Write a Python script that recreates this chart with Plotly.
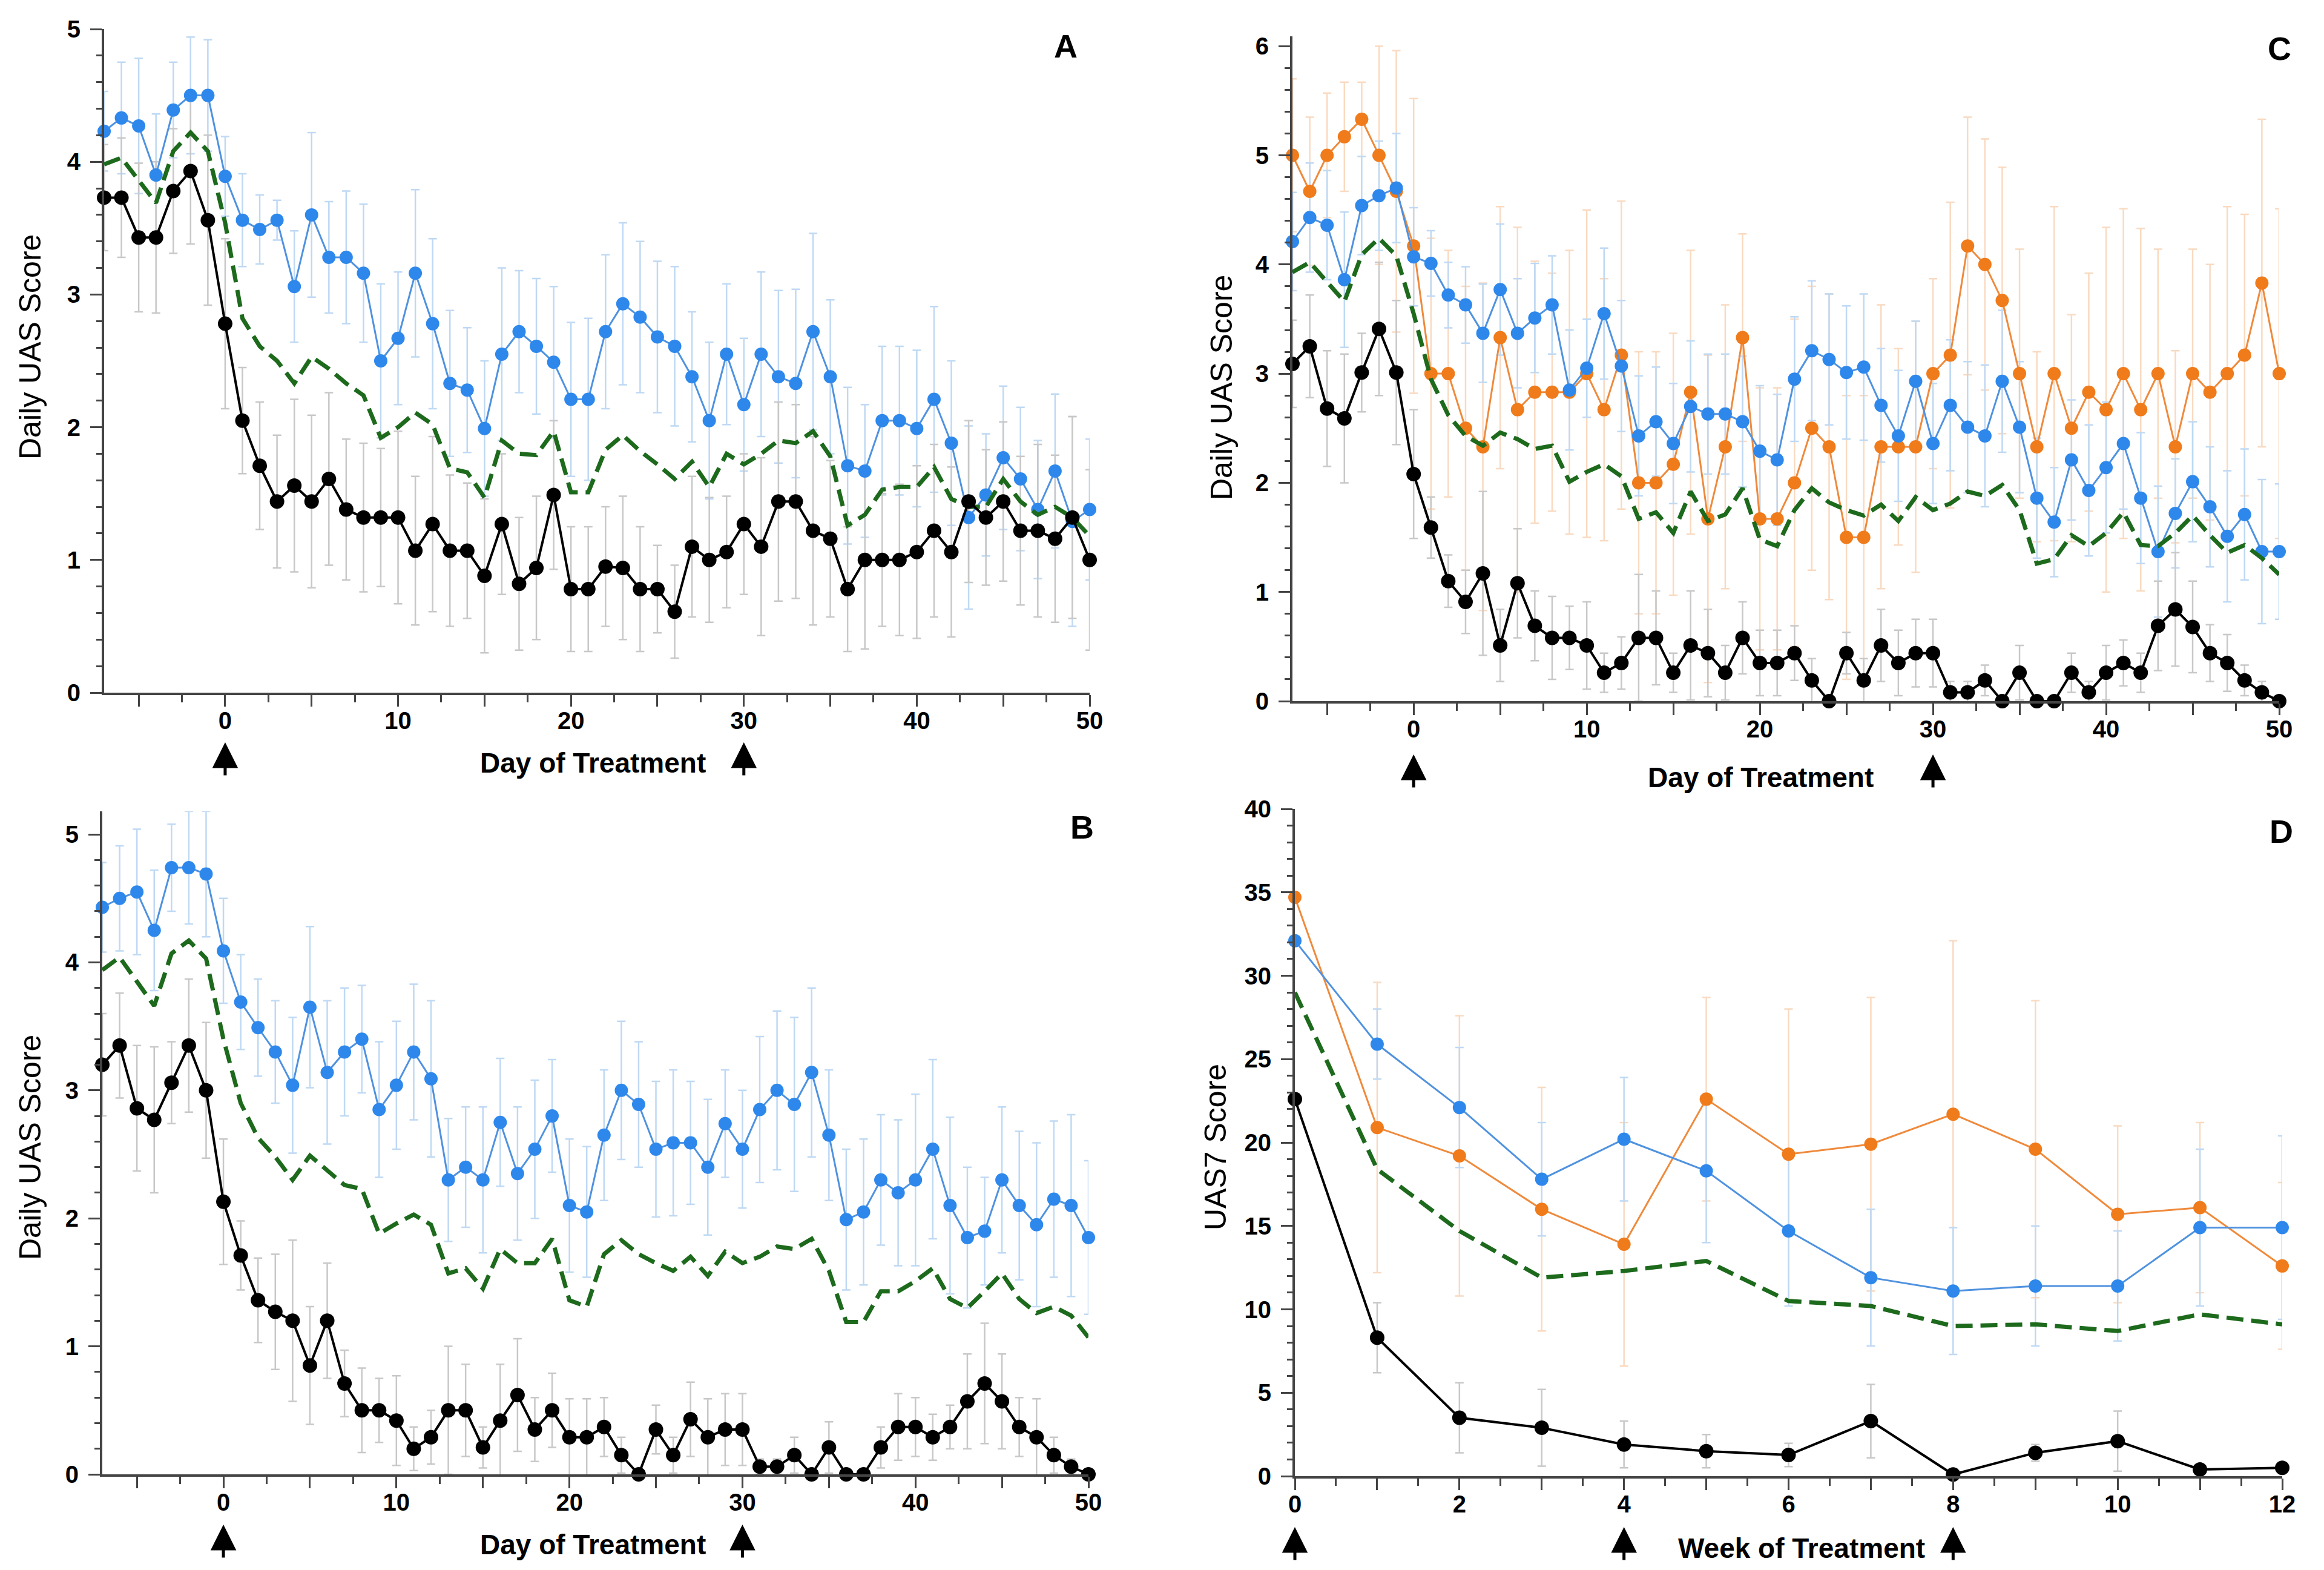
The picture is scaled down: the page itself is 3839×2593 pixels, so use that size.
import numpy as np
import plotly.graph_objects as go

# ---------------- data ----------------
days = list(range(-7, 51))
weeks = list(range(0, 13))
arrow_days = [0, 30]
arrow_weeks = [0, 4, 8]

# Panel A
A_blue = [4.23, 4.33, 4.27, 3.90, 4.39, 4.50, 4.50,
          3.89, 3.56, 3.49, 3.56, 3.06, 3.60, 3.28, 3.28, 3.16, 2.50,
          2.67, 3.16, 2.78, 2.33, 2.28, 1.99, 2.55, 2.72, 2.61, 2.49,
          2.21, 2.21, 2.72, 2.93, 2.83, 2.68, 2.61, 2.38, 2.05, 2.55,
          2.17, 2.55, 2.38, 2.33, 2.72, 2.38, 1.71, 1.67, 2.05, 2.05,
          1.99, 2.21, 1.88, 1.32, 1.49, 1.77, 1.61, 1.38, 1.67, 1.29, 1.38]
A_blue_err = [0.30, 0.42, 0.51, 0.46, 0.36, 0.44, 0.42,
              0.30, 0.35, 0.26, 0.15, 0.42, 0.62, 0.42, 0.50, 0.52, 0.58,
              0.50, 0.63, 0.64, 0.55, 0.47, 0.51, 0.65, 0.46, 0.51, 0.57,
              0.58, 0.61, 0.58, 0.61, 0.57, 0.57, 0.60, 0.49, 0.59, 0.53,
              0.50, 0.62, 0.65, 0.71, 0.74, 0.58, 0.59, 0.50, 0.56, 0.56,
              0.59, 0.70, 0.62, 0.69, 0.46, 0.54, 0.54, 0.52, 0.58, 0.79, 0.53]
A_black = [3.73, 3.73, 3.43, 3.43, 3.78, 3.93, 3.56,
           2.78, 2.05, 1.71, 1.44, 1.56, 1.44, 1.61, 1.38, 1.32, 1.32,
           1.32, 1.07, 1.27, 1.07, 1.07, 0.88, 1.27, 0.82, 0.94, 1.49,
           0.78, 0.78, 0.95, 0.94, 0.78, 0.78, 0.61, 1.10, 1.00, 1.06,
           1.27, 1.10, 1.44, 1.44, 1.22, 1.16, 0.78, 1.00, 1.00, 1.00,
           1.06, 1.22, 1.06, 1.44, 1.32, 1.44, 1.22, 1.22, 1.16, 1.32, 1.00]
A_black_err = [0.40, 0.45, 0.56, 0.57, 0.47, 0.55, 0.64,
               0.64, 0.40, 0.48, 0.50, 0.65, 0.65, 0.65, 0.53, 0.56, 0.52,
               0.65, 0.56, 0.66, 0.57, 0.51, 0.58, 0.53, 0.50, 0.54, 0.56,
               0.47, 0.47, 0.45, 0.54, 0.47, 0.33, 0.35, 0.53, 0.47, 0.42,
               0.53, 0.67, 0.75, 0.73, 0.71, 0.59, 0.47, 0.67, 0.50, 0.57,
               0.65, 0.65, 0.64, 0.61, 0.51, 0.60, 0.56, 0.65, 0.63, 0.76, 0.68]
A_green = [3.98, 4.03, 3.86, 3.69, 4.08, 4.22, 4.08,
           3.54, 2.82, 2.61, 2.50, 2.33, 2.53, 2.44, 2.33, 2.24, 1.92,
           2.00, 2.11, 2.02, 1.69, 1.66, 1.47, 1.90, 1.80, 1.79, 1.97,
           1.51, 1.51, 1.83, 1.94, 1.82, 1.72, 1.61, 1.74, 1.55, 1.80,
           1.72, 1.80, 1.90, 1.88, 1.97, 1.78, 1.26, 1.34, 1.53, 1.55,
           1.55, 1.70, 1.46, 1.40, 1.40, 1.61, 1.44, 1.34, 1.40, 1.32, 1.18]

# Panel B
B_blue = [4.43, 4.50, 4.55, 4.25, 4.74, 4.74, 4.69,
          4.09, 3.69, 3.49, 3.30, 3.04, 3.65, 3.14, 3.30, 3.40, 2.85,
          3.04, 3.30, 3.09, 2.30, 2.40, 2.30, 2.75, 2.35, 2.54, 2.80,
          2.10, 2.05, 2.65, 3.00, 2.89, 2.54, 2.59, 2.59, 2.40, 2.74,
          2.54, 2.85, 3.00, 2.89, 3.14, 2.65, 1.99, 2.05, 2.30, 2.20,
          2.30, 2.54, 2.10, 1.85, 1.90, 2.30, 2.10, 1.95, 2.15, 2.10, 1.85]
B_blue_err = [0.35, 0.41, 0.49, 0.47, 0.34, 0.44, 0.49,
              0.41, 0.37, 0.38, 0.40, 0.53, 0.63, 0.56, 0.50, 0.42, 0.53,
              0.50, 0.53, 0.61, 0.48, 0.47, 0.57, 0.50, 0.52, 0.54, 0.44,
              0.52, 0.51, 0.51, 0.54, 0.49, 0.53, 0.57, 0.48, 0.53, 0.42,
              0.46, 0.57, 0.62, 0.68, 0.66, 0.51, 0.55, 0.57, 0.51, 0.57,
              0.67, 0.70, 0.69, 0.55, 0.42, 0.57, 0.58, 0.64, 0.61, 0.71, 0.60]
B_black = [3.20, 3.35, 2.86, 2.77, 3.06, 3.35, 3.00,
           2.13, 1.71, 1.36, 1.27, 1.20, 0.85, 1.20, 0.71, 0.50, 0.50,
           0.42, 0.20, 0.29, 0.50, 0.50, 0.21, 0.42, 0.62, 0.35, 0.50,
           0.29, 0.29, 0.37, 0.15, 0.00, 0.35, 0.15, 0.43, 0.29, 0.35,
           0.35, 0.06, 0.06, 0.15, 0.00, 0.21, 0.00, 0.00, 0.21, 0.37,
           0.37, 0.29, 0.37, 0.57, 0.71, 0.57, 0.37, 0.29, 0.15, 0.06, 0.00]
B_black_err = [0.40, 0.41, 0.49, 0.57, 0.32, 0.52, 0.53,
               0.49, 0.27, 0.33, 0.45, 0.63, 0.46, 0.45, 0.26, 0.33, 0.25,
               0.35, 0.17, 0.21, 0.50, 0.36, 0.16, 0.44, 0.44, 0.25, 0.29,
               0.30, 0.30, 0.23, 0.14, 0.00, 0.19, 0.14, 0.29, 0.30, 0.28,
               0.28, 0.06, 0.06, 0.14, 0.00, 0.20, 0.00, 0.00, 0.16, 0.26,
               0.23, 0.18, 0.17, 0.37, 0.47, 0.37, 0.23, 0.30, 0.14, 0.06, 0.00]
B_green = [3.94, 4.04, 3.85, 3.66, 4.07, 4.17, 4.03,
           3.40, 2.90, 2.63, 2.48, 2.30, 2.49, 2.37, 2.26, 2.23, 1.88,
           1.96, 2.03, 1.95, 1.57, 1.61, 1.45, 1.76, 1.65, 1.65, 1.84,
           1.36, 1.31, 1.72, 1.83, 1.72, 1.65, 1.59, 1.70, 1.55, 1.74,
           1.65, 1.70, 1.78, 1.76, 1.84, 1.59, 1.19, 1.19, 1.43, 1.43,
           1.51, 1.61, 1.37, 1.30, 1.43, 1.57, 1.37, 1.26, 1.31, 1.24, 1.07]

# Panel C
C_orange = [5.00, 4.67, 5.00, 5.17, 5.33, 5.00, 4.67,
            4.17, 3.00, 3.00, 2.50, 2.33, 3.33, 2.67, 2.83, 2.83, 2.83,
            3.00, 2.67, 3.17, 2.00, 2.00, 2.17, 2.83, 1.67, 2.33, 3.33,
            1.67, 1.67, 2.00, 2.50, 2.33, 1.50, 1.50, 2.33, 2.33, 2.33,
            3.00, 3.17, 4.17, 4.00, 3.67, 3.00, 2.33, 3.00, 2.50, 2.83,
            2.67, 3.00, 2.67, 3.00, 2.33, 3.00, 2.83, 3.00, 3.17, 3.83, 3.00]
C_orange_err = [0.70, 0.68, 0.57, 0.50, 0.34, 1.00, 1.29,
                1.35, 1.24, 1.13, 1.30, 1.50, 1.20, 1.67, 1.20, 1.09, 1.30,
                1.50, 1.20, 1.41, 1.20, 1.20, 1.20, 1.30, 1.50, 1.30, 0.95,
                1.20, 1.20, 1.50, 1.30, 1.40, 1.30, 1.30, 1.30, 0.90, 1.15,
                0.87, 1.40, 1.18, 1.15, 1.22, 1.14, 0.87, 1.53, 1.04, 1.09,
                1.67, 1.51, 1.66, 1.14, 0.88, 1.14, 1.17, 1.53, 1.29, 1.50, 1.51]
C_blue = [4.21, 4.43, 4.36, 3.86, 4.54, 4.63, 4.70,
          4.07, 4.01, 3.72, 3.63, 3.37, 3.77, 3.37, 3.51, 3.63, 2.85,
          3.05, 3.55, 3.07, 2.43, 2.56, 2.36, 2.70, 2.63, 2.63, 2.56,
          2.29, 2.21, 2.95, 3.21, 3.13, 3.01, 3.06, 2.71, 2.43, 2.93,
          2.36, 2.71, 2.51, 2.43, 2.93, 2.51, 1.86, 1.64, 2.21, 1.93,
          2.14, 2.36, 1.86, 1.37, 1.72, 2.01, 1.78, 1.51, 1.71, 1.37, 1.37]
C_blue_err = [0.45, 0.50, 0.50, 0.62, 0.45, 0.50, 0.50,
              0.45, 0.30, 0.30, 0.35, 0.45, 0.60, 0.50, 0.50, 0.45, 0.55,
              0.45, 0.60, 0.60, 0.55, 0.50, 0.55, 0.60, 0.55, 0.55, 0.60,
              0.60, 0.60, 0.57, 0.64, 0.60, 0.61, 0.67, 0.52, 0.60, 0.55,
              0.55, 0.60, 0.60, 0.65, 0.65, 0.60, 0.55, 0.50, 0.55, 0.60,
              0.60, 0.60, 0.60, 0.60, 0.50, 0.55, 0.55, 0.60, 0.60, 0.66, 0.62]
C_black = [3.09, 3.25, 2.68, 2.59, 3.01, 3.41, 3.01,
           2.08, 1.59, 1.10, 0.91, 1.17, 0.51, 1.08, 0.69, 0.58, 0.58,
           0.51, 0.26, 0.35, 0.58, 0.58, 0.26, 0.51, 0.44, 0.26, 0.58,
           0.35, 0.35, 0.44, 0.19, 0.00, 0.44, 0.19, 0.51, 0.35, 0.44,
           0.44, 0.08, 0.08, 0.19, 0.00, 0.26, 0.00, 0.00, 0.26, 0.08,
           0.26, 0.35, 0.26, 0.69, 0.84, 0.68, 0.44, 0.35, 0.19, 0.08, 0.00]
C_black_err = [0.40, 0.47, 0.53, 0.59, 0.36, 0.61, 0.66,
               0.59, 0.28, 0.24, 0.29, 0.75, 0.33, 0.50, 0.32, 0.38, 0.29,
               0.40, 0.18, 0.24, 0.58, 0.43, 0.18, 0.50, 0.40, 0.25, 0.33,
               0.30, 0.30, 0.25, 0.20, 0.00, 0.19, 0.20, 0.33, 0.30, 0.31,
               0.31, 0.10, 0.10, 0.14, 0.00, 0.25, 0.00, 0.00, 0.18, 0.10,
               0.25, 0.21, 0.18, 0.41, 0.52, 0.42, 0.26, 0.26, 0.14, 0.10, 0.00]
C_green = [3.93, 4.02, 3.84, 3.66, 4.09, 4.24, 4.08,
           3.55, 2.95, 2.62, 2.43, 2.34, 2.46, 2.40, 2.31, 2.34, 2.01,
           2.10, 2.17, 2.06, 1.67, 1.73, 1.54, 1.92, 1.65, 1.71, 1.95,
           1.48, 1.42, 1.75, 1.95, 1.82, 1.75, 1.70, 1.80, 1.65, 1.87,
           1.75, 1.81, 1.92, 1.88, 1.98, 1.75, 1.26, 1.30, 1.52, 1.42,
           1.54, 1.73, 1.43, 1.42, 1.54, 1.70, 1.52, 1.36, 1.43, 1.31, 1.16]

# Panel D (weekly UAS7)
D_orange = [34.7, 20.9, 19.2, 16.0, 13.9, 22.6, 19.3, 19.9, 21.7, 19.6, 15.7, 16.1, 12.6]
D_orange_err = [0.0, 8.7, 8.4, 7.3, 7.3, 6.1, 8.7, 8.8, 10.4, 8.9, 5.3, 5.1, 5.0]
D_blue = [32.1, 25.9, 22.1, 17.8, 20.2, 18.3, 14.7, 11.9, 11.1, 11.4, 11.4, 14.9, 14.9]
D_blue_err = [0.0, 2.1, 3.6, 3.4, 3.7, 4.3, 4.5, 4.1, 3.8, 3.6, 3.3, 4.7, 5.5]
D_black = [22.6, 8.3, 3.5, 2.9, 1.9, 1.5, 1.27, 3.3, 0.1, 1.4, 2.1, 0.4, 0.5]
D_black_err = [0.0, 2.1, 2.1, 2.3, 1.4, 1.0, 0.7, 2.2, 0.0, 0.5, 1.8, 0.3, 0.3]
D_green = [29.0, 18.4, 14.7, 11.9, 12.3, 12.9, 10.5, 10.2, 9.0, 9.1, 8.7, 9.7, 9.1]

# ---------------- styles ----------------
FONT = "Liberation Sans, Arial, Helvetica, sans-serif"
AX = "#444444"
BLUE_L, BLUE_M, BLUE_E = "#4f92e0", "#2e88ec", "#bfd9f4"
BLACK, BLACK_E = "#000000", "#c8c8c8"
ORANGE_L, ORANGE_M, ORANGE_E = "#ef8a3c", "#f07b1b", "#f9dac1"
GREEN = "#1d6a1d"

fig = go.Figure()


def ax_names(k):
    return ("x", "y") if k == 1 else (f"x{k}", f"y{k}")


def err_trace(x, y, e, color, k):
    xa, ya = ax_names(k)
    fig.add_trace(go.Scatter(
        x=x, y=y, xaxis=xa, yaxis=ya, mode="markers",
        marker=dict(size=1, color="rgba(0,0,0,0)"),
        error_y=dict(type="data", array=e, visible=True, color=color,
                     thickness=2.5, width=7),
        hoverinfo="skip", showlegend=False, cliponaxis=False))


def line_trace(x, y, lc, mc, k, msize=22, lw=3):
    xa, ya = ax_names(k)
    fig.add_trace(go.Scatter(
        x=x, y=y, xaxis=xa, yaxis=ya, mode="lines+markers",
        line=dict(color=lc, width=lw),
        marker=dict(color=mc, size=msize, line=dict(width=0)),
        showlegend=False, cliponaxis=False))


def green_trace(x, y, k):
    xa, ya = ax_names(k)
    fig.add_trace(go.Scatter(
        x=x, y=y, xaxis=xa, yaxis=ya, mode="lines",
        line=dict(color=GREEN, width=7, dash="28px,13px"),
        showlegend=False, cliponaxis=False))


# Panel A (k=1)
err_trace(days, A_blue, A_blue_err, BLUE_E, 1)
err_trace(days, A_black, A_black_err, BLACK_E, 1)
line_trace(days, A_blue, BLUE_L, BLUE_M, 1)
green_trace(days, A_green, 1)
line_trace(days, A_black, BLACK, BLACK, 1, msize=24, lw=4)

# Panel B (k=2)
err_trace(days, B_blue, B_blue_err, BLUE_E, 2)
err_trace(days, B_black, B_black_err, BLACK_E, 2)
line_trace(days, B_blue, BLUE_L, BLUE_M, 2)
green_trace(days, B_green, 2)
line_trace(days, B_black, BLACK, BLACK, 2, msize=24, lw=4)

# Panel C (k=3)
err_trace(days, C_orange, C_orange_err, ORANGE_E, 3)
err_trace(days, C_blue, C_blue_err, BLUE_E, 3)
err_trace(days, C_black, C_black_err, BLACK_E, 3)
line_trace(days, C_orange, ORANGE_L, ORANGE_M, 3)
line_trace(days, C_blue, BLUE_L, BLUE_M, 3)
green_trace(days, C_green, 3)
line_trace(days, C_black, BLACK, BLACK, 3, msize=24, lw=4)

# Panel D (k=4)
err_trace(weeks, D_orange, D_orange_err, ORANGE_E, 4)
err_trace(weeks, D_blue, D_blue_err, BLUE_E, 4)
err_trace(weeks, D_black, D_black_err, BLACK_E, 4)
line_trace(weeks, D_orange, ORANGE_L, ORANGE_M, 4)
line_trace(weeks, D_blue, BLUE_L, BLUE_M, 4)
green_trace(weeks, D_green, 4)
line_trace(weeks, D_black, BLACK, BLACK, 4, msize=24, lw=4)

# ---------------- axes ----------------
TICKFONT = dict(family=FONT, size=40, color="black", weight="bold")


def make_axis(domain, anchor, rng, tickvals, ticktext, minorvals, standoff, minorlen):
    return dict(
        domain=domain, anchor=anchor, range=rng, automargin=False,
        showline=True, linecolor=AX, linewidth=4,
        ticks="outside", ticklen=19, tickwidth=3, tickcolor=AX,
        tickmode="array", tickvals=tickvals, ticktext=ticktext,
        tickfont=TICKFONT, ticklabelstandoff=standoff,
        minor=dict(ticks="outside", ticklen=minorlen, tickwidth=3, tickcolor=AX,
                   tickmode="array", tickvals=minorvals, showgrid=False),
        showgrid=False, zeroline=False, fixedrange=True)


day_major = list(range(-5, 51, 5))
day_text = [str(v) if v % 10 == 0 else "" for v in day_major]
day_minor = [v for v in np.arange(-5, 50.1, 2.5).tolist() if v % 5 != 0]
week_major = list(range(0, 13))
week_text = [str(v) if v % 2 == 0 else "" for v in week_major]
week_minor = [v + 0.5 for v in range(0, 12)]


def lab(vals):
    return [str(v) for v in vals]


uas_major5 = list(range(0, 6))
uas_minor5 = [round(v, 1) for v in np.arange(0, 5.01, 0.2).tolist() if abs(v - round(v)) > 1e-6]
uas_major6 = list(range(0, 7))
uas_minor6 = [round(v, 1) for v in np.arange(0, 6.01, 0.2).tolist() if abs(v - round(v)) > 1e-6]
uas7_major = list(range(0, 41, 5))
uas7_minor = [v for v in range(0, 41) if v % 5 != 0]

xA = [172 / 3839, 1800 / 3839]
yA = [1 - 1144 / 2593, 1 - 48 / 2593]
xB = [169 / 3839, 1798 / 3839]
yB = [1 - 2435 / 2593, 1 - 1340 / 2593]
xC = [2135 / 3839, 3765 / 3839]
yC = [1 - 1158 / 2593, 1 - 60 / 2593]
xD = [2139 / 3839, 3770 / 3839]
yD = [1 - 2438 / 2593, 1 - 1336 / 2593]

XSO, YSO = -11, 8
fig.update_layout(
    xaxis=make_axis(xA, "y", [-7, 50], day_major, day_text, day_minor, XSO, 12),
    yaxis=make_axis(yA, "x", [0, 5], uas_major5, lab(uas_major5), uas_minor5, YSO, 9),
    xaxis2=make_axis(xB, "y2", [-7, 50], day_major, day_text, day_minor, XSO, 12),
    yaxis2=make_axis(yB, "x2", [0, 5.18], uas_major5, lab(uas_major5), uas_minor5, YSO, 9),
    xaxis3=make_axis(xC, "y3", [-7, 50], day_major, day_text, day_minor, XSO, 12),
    yaxis3=make_axis(yC, "x3", [0, 6.09], uas_major6, lab(uas_major6), uas_minor6, YSO, 9),
    xaxis4=make_axis(xD, "y4", [0, 12], week_major, week_text, week_minor, XSO, 12),
    yaxis4=make_axis(yD, "x4", [0, 40], uas7_major, lab(uas7_major), uas7_minor, YSO, 9),
)

# ---------------- annotations ----------------
ann = []


def text_ann(txt, x, y, size, bold=True, angle=0):
    ann.append(dict(text=txt, x=x, y=y, xref="paper", yref="paper",
                    xanchor="center", yanchor="middle", showarrow=False,
                    textangle=angle,
                    font=dict(family=FONT, size=size, color="black",
                              weight="bold" if bold else "normal")))


# axis titles
text_ann("Day of Treatment", 979 / 3839, 1 - 1260 / 2593, 46)
text_ann("Day of Treatment", 979 / 3839, 1 - 2551 / 2593, 46)
text_ann("Day of Treatment", 2908 / 3839, 1 - 1284 / 2593, 46)
text_ann("Week of Treatment", 2976 / 3839, 1 - 2557 / 2593, 46)
text_ann("Daily UAS Score", 50 / 3839, 1 - 573 / 2593, 50, bold=False, angle=-90)
text_ann("Daily UAS Score", 50 / 3839, 1 - 1895 / 2593, 50, bold=False, angle=-90)
text_ann("Daily UAS Score", 2018 / 3839, 1 - 640 / 2593, 50, bold=False, angle=-90)
text_ann("UAS7 Score", 2008 / 3839, 1 - 1895 / 2593, 50, bold=False, angle=-90)

# panel letters
text_ann("A", 1760 / 3839, 1 - 76 / 2593, 54)
text_ann("B", 1787 / 3839, 1 - 1366 / 2593, 54)
text_ann("C", 3765 / 3839, 1 - 80 / 2593, 54)
text_ann("D", 3768 / 3839, 1 - 1373 / 2593, 54)


def arrow(xv, xref, tip_px):
    ann.append(dict(text="", x=xv, y=1 - tip_px / 2593, xref=xref, yref="paper",
                    ax=0, ay=56, axref="pixel", ayref="pixel",
                    showarrow=True, arrowhead=2, arrowsize=1.7, arrowwidth=5,
                    arrowcolor="black"))


for d in arrow_days:
    arrow(d, "x", 1226)
    arrow(d, "x2", 2518)
    arrow(d, "x3", 1246)
for w in arrow_weeks:
    arrow(w, "x4", 2522)

fig.update_layout(
    annotations=ann,
    width=3839, height=2593,
    margin=dict(l=0, r=0, t=0, b=0, pad=0, autoexpand=False),
    paper_bgcolor="white", plot_bgcolor="white",
    showlegend=False,
    font=dict(family=FONT, color="black"),
)

fig.write_html("out.html",
               config={"displayModeBar": False, "staticPlot": True},
               post_script="document.body.style.margin='0px';document.body.style.overflow='hidden';")
